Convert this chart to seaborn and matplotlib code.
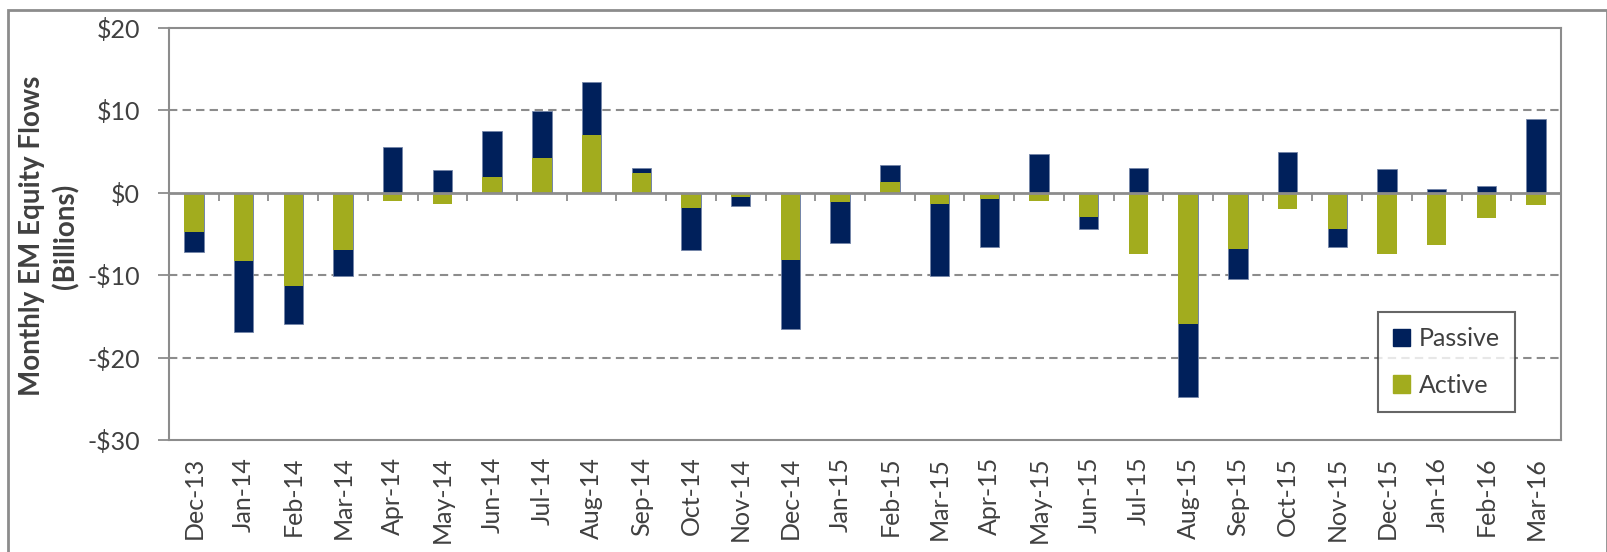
import matplotlib.pyplot as plt
import matplotlib.patches as mpatches
import numpy as np
import pandas as pd
import seaborn as sns

# monthly EM equity flows, $ billions
months = ["Dec-13", "Jan-14", "Feb-14", "Mar-14", "Apr-14", "May-14", "Jun-14",
          "Jul-14", "Aug-14", "Sep-14", "Oct-14", "Nov-14", "Dec-14", "Jan-15",
          "Feb-15", "Mar-15", "Apr-15", "May-15", "Jun-15", "Jul-15", "Aug-15",
          "Sep-15", "Oct-15", "Nov-15", "Dec-15", "Jan-16", "Feb-16", "Mar-16"]
active = [-4.77, -8.29, -11.29, -7.0, -1.05, -1.33, 1.9, 4.2, 7.0, 2.35,
          -1.86, -0.49, -8.21, -1.17, 1.33, -1.38, -0.81, -1.01, -2.99, -7.48,
          -15.94, -6.88, -2.02, -4.41, -7.48, -6.35, -3.03, -1.5]
passive = [-2.47, -8.6, -4.65, -3.07, 5.5, 2.71, 5.58, 5.7, 6.43, 0.6,
           -5.14, -1.17, -8.38, -4.98, 2.03, -8.73, -5.82, 4.73, -1.38, 3.03,
           -8.82, -3.64, 4.89, -2.22, 2.87, 0.40, 0.85, 8.94]
yticks = [-30, -20, -10, 0, 10, 20]
ytick_labels = ["-$30", "-$20", "-$10", "$0", "$10", "$20"]

navy = "#00205B"
olive = "#A2AC1E"
grey = "#8C8C8C"
text_col = "#404040"

sns.set_style("white")
plt.rcParams['font.family'] = ['Lato', 'DejaVu Sans']

df = pd.DataFrame({"month": months, "active": active, "passive": passive})
# passive stacks on top of active when both have the same sign
same = np.sign(df["active"]) == np.sign(df["passive"])
df["passive_end"] = np.where(same, df["active"] + df["passive"], df["passive"])

fig = plt.figure(figsize=(16.08, 5.52), dpi=100)
ax = fig.add_axes([0.1051, 0.2029, 0.8657, 0.7464])

for y in yticks:
    if y not in (0, min(yticks), max(yticks)):
        ax.axhline(y, color=grey, lw=1.5, dashes=(4, 2.5), zorder=0)

sns.barplot(data=df, x="month", y="passive_end", color=navy, width=0.39,
            saturation=1, errorbar=None, ax=ax, edgecolor="#7485a8",
            linewidth=0.6, zorder=2)
sns.barplot(data=df, x="month", y="active", color=olive, width=0.39,
            saturation=1, errorbar=None, ax=ax, linewidth=0, zorder=3)

ax.axhline(0, color=grey, lw=2, zorder=4)
ax.vlines(np.arange(len(months) - 1) + 0.5, 0, -1.0, color=grey, lw=1.3, zorder=4)

ax.set_xlim(-0.5, len(months) - 0.5)
ax.set_ylim(min(yticks), max(yticks))
ax.set_yticks(yticks)
ax.set_yticklabels(ytick_labels)
ax.set_xticks(range(len(months)))
ax.set_xticklabels(months, rotation=90)
ax.tick_params(axis="y", length=8, width=1.3, color=grey, pad=13,
               labelsize=18, labelcolor=text_col, left=True)
ax.tick_params(axis="x", length=0, pad=12, labelsize=18, labelcolor=text_col)
ax.set_xlabel("")
ax.set_ylabel("")
for s in ax.spines.values():
    s.set_color(grey)
    s.set_linewidth(1.5)

fig.text(49 / 1608, 1 - 236 / 552, "Monthly EM Equity Flows\n(Billions)",
         rotation=90, ha="center", va="center", fontsize=20,
         fontweight="bold", color=text_col, linespacing=1.35)

handles = [mpatches.Patch(color=navy, label="Passive"),
           mpatches.Patch(color=olive, label="Active")]
leg = ax.legend(handles=handles, loc="center", bbox_to_anchor=(0.9178, 0.1893),
                fontsize=18, frameon=True, fancybox=False, handlelength=0.7,
                handleheight=0.7, handletextpad=0.35, labelspacing=0.95,
                borderpad=0.6, borderaxespad=0)
leg.get_frame().set_edgecolor("#404040")
leg.get_frame().set_linewidth(1.5)
for t in leg.get_texts():
    t.set_color(text_col)

# outer chart frame
fig.patches.append(mpatches.Rectangle((7.6 / 1608, -0.05), 1 - 8.6 / 1608, 1.05 - 10 / 552,
                                      transform=fig.transFigure, fill=False,
                                      edgecolor=grey, lw=2))

fig.savefig("out.png", dpi=100)
